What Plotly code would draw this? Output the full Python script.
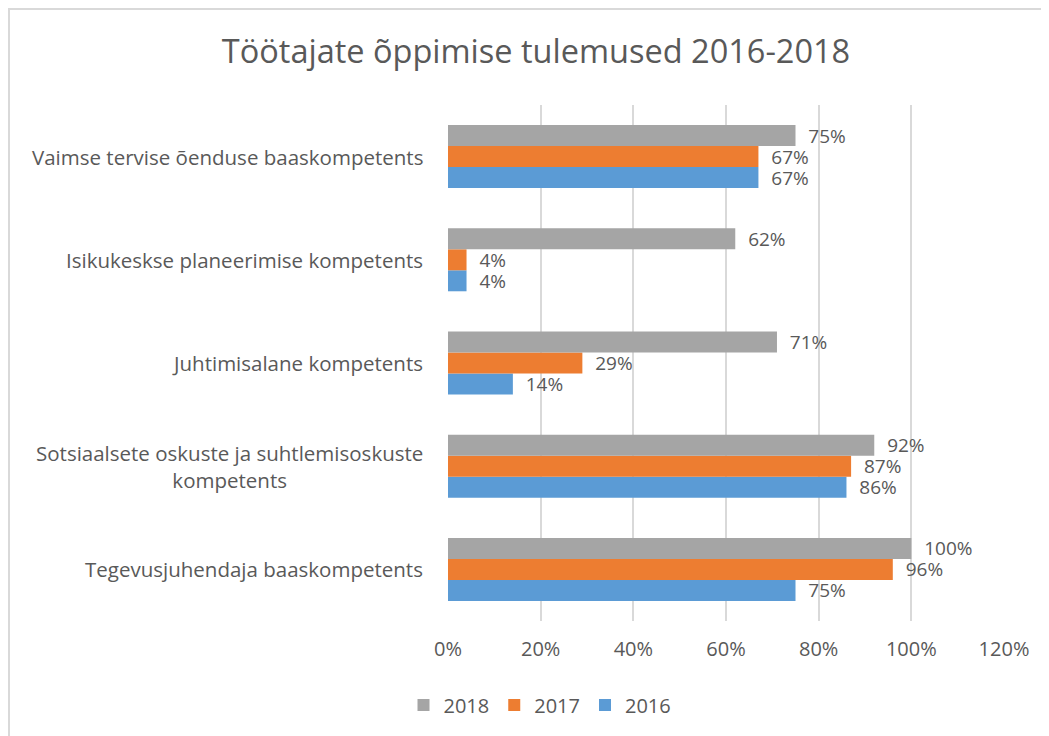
import plotly.graph_objects as go

categories = [
    "Tegevusjuhendaja baaskompetents",
    "Sotsiaalsete oskuste ja suhtlemisoskuste<br>kompetents",
    "Juhtimisalane kompetents",
    "Isikukeskse planeerimise kompetents",
    "Vaimse tervise õenduse baaskompetents",
]
v2016 = [0.75, 0.86, 0.14, 0.04, 0.67]
v2017 = [0.96, 0.87, 0.29, 0.04, 0.67]
v2018 = [1.00, 0.92, 0.71, 0.62, 0.75]
series = [("2016", v2016, "#5b9bd5"), ("2017", v2017, "#ed7d31"), ("2018", v2018, "#a5a5a5")]
x_ticks = [0, 0.2, 0.4, 0.6, 0.8, 1.0, 1.2]
x_tick_labels = ["0%", "20%", "40%", "60%", "80%", "100%", "120%"]

FONT = "'Open Sans', Lato, sans-serif"
TXT = "#595959"
NB = "\u00a0\u00a0"

# page body has an 8px margin: work in shifted pixel coordinates
OFF = 8
W, H = 1049 - OFF, 736 - OFF
L, R, T, B = 448 - OFF, 1004 - OFF, 105 - OFF, 621 - OFF

def px_x(p):
    return (p - OFF - L) / (R - L)

def px_y(p):
    return (B - (p - OFF)) / (B - T)

fig = go.Figure()
for name, vals, col in series:
    fig.add_trace(go.Bar(
        y=categories, x=vals, name=name, orientation="h",
        marker=dict(color=col, line=dict(width=0)),
        text=[f"{NB}{round(v*100)}%" for v in vals], textposition="outside",
        constraintext="none",
        textfont=dict(size=19, color=TXT, family=FONT), cliponaxis=False,
    ))

for c in categories:
    fig.add_annotation(x=px_x(425), xref="paper", y=c, yref="y", text=c,
                       showarrow=False, xanchor="right", align="center",
                       font=dict(size=20.5, color=TXT, family=FONT))

fig.add_shape(type="rect", xref="paper", yref="paper",
              x0=px_x(9), x1=px_x(1080), y0=px_y(780), y1=px_y(9),
              line=dict(color="#d9d9d9", width=2), layer="below")

fig.update_layout(
    width=W, height=H,
    margin=dict(l=L, r=W - R, t=T, b=H - B),
    paper_bgcolor="white", plot_bgcolor="white",
    barmode="group", bargap=0.39, bargroupgap=0,
    title=dict(text="Töötajate õppimise tulemused 2016-2018", x=(536 - OFF) / W,
               xanchor="center", xref="container",
               y=1 - (52 - OFF) / H, yanchor="middle",
               font=dict(size=32.5, color=TXT, family=FONT)),
    xaxis=dict(range=[0, 1.2], tickvals=x_ticks, ticktext=x_tick_labels,
               showgrid=True, gridcolor="#d9d9d9", gridwidth=2, zeroline=False,
               showline=False, ticks="", ticklabelstandoff=14,
               tickfont=dict(size=20, color=TXT, family=FONT)),
    yaxis=dict(showticklabels=False, showgrid=False, zeroline=False, showline=False,
               ticks=""),
    legend=dict(orientation="h", traceorder="reversed", x=px_x(540), xanchor="center",
                y=px_y(705), yanchor="middle",
                font=dict(size=20, color=TXT, family=FONT), itemwidth=30),
    showlegend=True,
)
fig.write_html("out.html")
